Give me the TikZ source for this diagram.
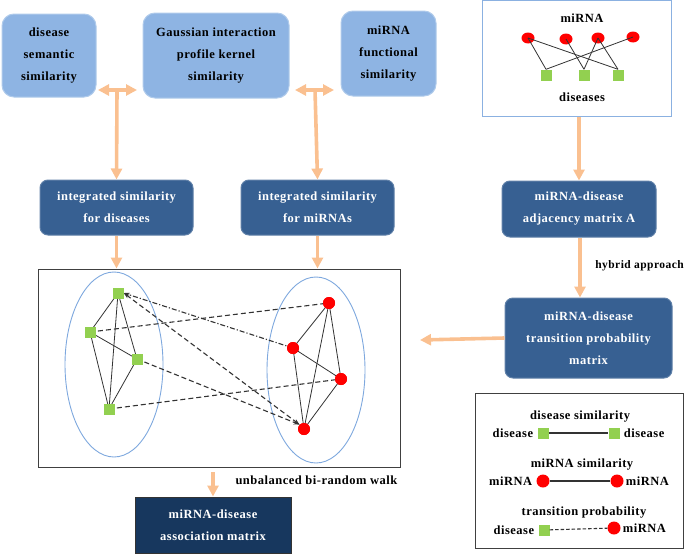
\documentclass[tikz,border=0pt]{standalone}
\usepackage{fontspec}
\setmainfont[LetterSpace=4]{Liberation Serif}
\usetikzlibrary{arrows.meta}
\definecolor{lightbox}{HTML}{8EB4E3}
\definecolor{darkbox}{HTML}{376092}
\definecolor{navy}{HTML}{17375E}
\definecolor{peach}{HTML}{FAC090}
\definecolor{ring}{HTML}{7EA8DE}
\definecolor{leaf}{HTML}{92D050}
\tikzset{
  txt/.style={font=\bfseries\fontsize{12.5}{22}\selectfont, align=center},
  lightnode/.style={txt, fill=lightbox, draw=lightbox!70!white, line width=1pt, rounded corners=12pt, inner sep=0pt},
  darknode/.style={txt, text=white, fill=darkbox, draw=darkbox!80!white, line width=1pt, rounded corners=8pt, inner sep=0pt},
  pipe/.style={draw=peach, line width=3.6pt, -{Triangle[width=11pt,length=11pt]}},
  dpipe/.style={draw=peach, line width=3.6pt, {Triangle[width=11pt,length=11pt]}-{Triangle[width=11pt,length=11pt]}},
  frame/.style={draw=black!75, line width=1pt, inner sep=0pt},
  sq/.style={rectangle, fill=leaf, minimum size=11pt, inner sep=0pt},
  dot/.style={circle, fill=red, minimum size=12pt, inner sep=0pt},
  dot0/.style={ellipse, fill=red, minimum width=13pt, minimum height=11pt, inner sep=0pt},
  sim/.style={draw=black!80, line width=0.8pt},
  cross/.style={draw=black!80, line width=1.1pt, dash pattern=on 5pt off 3pt},
  crossdot/.style={draw=black!80, line width=1.1pt, dash pattern=on 5pt off 2pt on 1.2pt off 2pt},
  lab/.style={font=\bfseries\fontsize{12.5}{14}\selectfont}
}
\usetikzlibrary{shapes.geometric}
\begin{document}
\begin{tikzpicture}[x=1pt, y=-1pt, line cap=butt]
  \useasboundingbox (0,0) rectangle (685,554);
  % similarity sources
  \node[lightnode, minimum width=94pt, minimum height=83pt] (dss) at (49,55.5) {disease\\semantic\\similarity};
  \node[lightnode, minimum width=146pt, minimum height=85pt] (gip) at (216,55.5) {Gaussian interaction\\profile kernel\\similarity};
  \node[lightnode, minimum width=95pt, minimum height=85pt] (mfs) at (388.5,53.5) {miRNA\\functional\\similarity};
  \coordinate (jl) at (117,90);
  \coordinate (jr) at (315,90);
  \draw[dpipe] (98,90) -- (137,90);
  \draw[dpipe] (295,90) -- (334,90);
  % integrated similarities
  \node[darknode, minimum width=153pt, minimum height=55pt] (isd) at (116.5,207.5) {integrated similarity\\for diseases};
  \node[darknode, minimum width=153pt, minimum height=55pt] (ism) at (317.5,207.5) {integrated similarity\\for miRNAs};
  \draw[pipe] (jl) -- (isd.north);
  \draw[pipe] (jr) -- (ism.north);
  % known associations
  \node[frame, draw=ring!90, minimum width=189pt, minimum height=116pt] (known) at (576.5,58) {};
  \node[lab] (kmi) at (582,18) {miRNA};
  \node[lab] (kdi) at (582,97) {diseases};
  \foreach \n/\x/\y in {1/528/38, 2/566/39, 3/598/38, 4/633/37}
    \node[dot0] (k\n) at (\x,\y) {};
  \foreach \n/\x in {1/546, 2/584, 3/618}
    \node[sq] (d\n) at (\x,75) {};
  \foreach \a/\b in {1/1, 1/3, 2/2, 3/2, 3/3, 4/1}
    \draw[sim] (k\a.center) -- (d\b.north);
  \node[darknode, minimum width=154pt, minimum height=56pt] (adj) at (579,209) {miRNA-disease\\adjacency matrix A};
  \draw[pipe] (known.south -| adj.north) -- (adj.north);
  \node[darknode, minimum width=167pt, minimum height=80pt] (tpm) at (588.5,338) {miRNA-disease\\transition probability\\matrix};
  \draw[pipe] (adj.south -| 580,0) -- (tpm.north -| 580,0);
  \node[lab, font=\bfseries\fontsize{11.5}{14}\selectfont, anchor=east, inner xsep=1pt] (hyb) at (685,266) {hybrid approach};
  % heterogeneous network
  \node[frame, minimum width=362pt, minimum height=198pt] (net) at (219,368) {};
  \draw[pipe] (isd.south) -- (isd.south |- net.north);
  \draw[pipe] (ism.south) -- (ism.south |- net.north);
  \coordinate (netin) at (420,340);
  \draw[pipe] (tpm.west) -- (netin);
  \draw[ring, line width=0.9pt] (114,364.5) ellipse (49pt and 92.5pt);
  \draw[ring, line width=0.9pt] (316,370) ellipse (49pt and 93pt);
  \node[sq] (s1) at (118,293) {};
  \node[sq] (s2) at (90,332) {};
  \node[sq] (s3) at (137,359) {};
  \node[sq] (s4) at (109,409) {};
  \node[dot] (r1) at (329,303) {};
  \node[dot] (r2) at (293,348) {};
  \node[dot] (r3) at (341,379) {};
  \node[dot] (r4) at (304,429) {};
  \foreach \a/\b in {1/2, 1/3, 1/4, 2/3, 2/4, 3/4} {
    \draw[sim] (s\a.center) -- (s\b.center);
    \draw[sim] (r\a.center) -- (r\b.center);
  }
  \draw[cross] (s2.center) -- (r1.center);
  \draw[crossdot, -{Stealth[length=6pt,width=4pt]}] (r2.center) -- (s1.east);
  \draw[cross, {Stealth[length=6pt,width=4pt]}-{Stealth[length=6pt,width=4pt]}] (s1.east) -- (r4.north west);
  \draw[cross, -{Stealth[length=6pt,width=4pt]}] (s3.center) -- (r4.north west);
  \draw[cross] (s4.center) -- (r3.center);
  \foreach \n in {1,...,4} {
    \node[sq] at (s\n) {};
    \node[dot] at (r\n) {};
  }
  % result
  \node[txt, text=white, fill=navy, draw=black!80, line width=1pt, minimum width=156pt, minimum height=56pt, inner sep=0pt] (res) at (213,525) {miRNA-disease\\association matrix};
  \draw[pipe] (res.north |- 0,472) -- (res.north);
  \node[lab, anchor=west] (ubr) at (232,480) {unbalanced bi-random walk};
  % legend
  \node[frame, minimum width=208pt, minimum height=155pt] (legend) at (579,470.5) {};
  \node[lab] (l1) at (580,417) {disease similarity};
  \node[sq] (la) at (543,433) {};
  \node[sq] (lb) at (614,433) {};
  \draw[sim, line width=1.1pt] (la) -- (lb);
  \node[lab, anchor=east, inner xsep=4pt] at (la.west) {disease};
  \node[lab, anchor=west, inner xsep=4pt] at (lb.east) {disease};
  \node[lab] (l2) at (582,465) {miRNA similarity};
  \node[dot, minimum size=13pt] (lc) at (543,481) {};
  \node[dot, minimum size=13pt] (ld) at (617,481) {};
  \draw[sim, line width=1.1pt] (lc) -- (ld);
  \node[lab, anchor=east, inner xsep=4pt] at (lc.west) {miRNA};
  \node[lab, anchor=west, inner xsep=2pt] at (ld.east) {miRNA};
  \node[lab] (l3) at (584,513) {transition probability};
  \node[sq] (le) at (544,530) {};
  \node[dot, minimum size=13pt] (lf) at (614,528) {};
  \draw[cross, dash pattern=on 3.5pt off 2pt] (le) -- (lf);
  \node[lab, anchor=east, inner xsep=4pt] at (le.west) {disease};
  \node[lab, anchor=west, inner xsep=2pt] at (lf.east) {miRNA};
\end{tikzpicture}
\end{document}
